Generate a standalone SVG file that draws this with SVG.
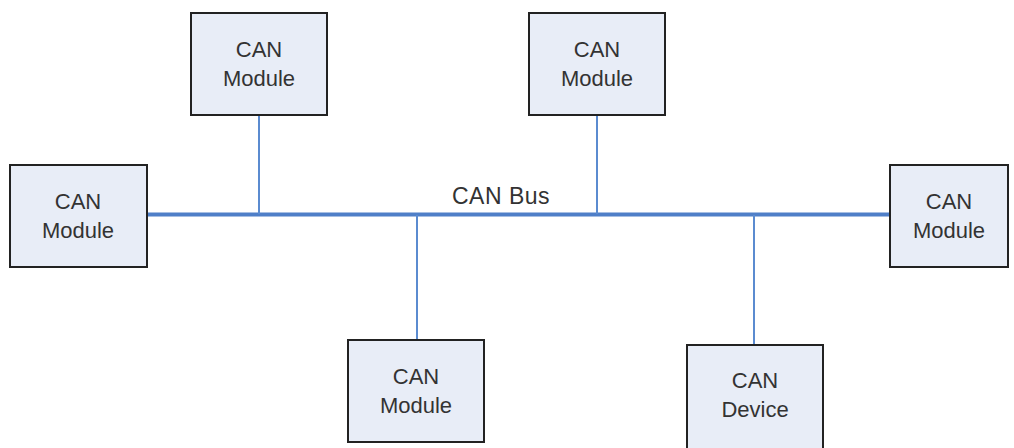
<svg xmlns="http://www.w3.org/2000/svg" width="1014" height="448" viewBox="0 0 1014 448">
  <style>
    .box { fill: #e8edf7; stroke: #222222; stroke-width: 2; }
    .lbl { font-family: "Liberation Sans", Arial, sans-serif; font-size: 22px; fill: #333333; text-anchor: middle; }
    .bus-lbl { font-size: 23px; letter-spacing: 0.5px; }
    .bus { stroke: #4f7fc8; stroke-width: 4; fill: none; }
    .stub { stroke: #5b8bd0; stroke-width: 2; fill: none; }
  </style>
  <rect width="1014" height="448" fill="#ffffff"/>

  <!-- bus and drop lines -->
  <g id="connectors">
    <line class="bus" x1="147" y1="214.5" x2="891" y2="214.5"/>
    <line class="stub" x1="259" y1="115" x2="259" y2="214"/>
    <line class="stub" x1="597" y1="115" x2="597" y2="214"/>
    <line class="stub" x1="417" y1="215" x2="417" y2="340"/>
    <line class="stub" x1="754" y1="215" x2="754" y2="345"/>
    <text class="lbl bus-lbl" x="501" y="204">CAN Bus</text>
  </g>

  <g id="module-left">
    <rect class="box" x="10" y="165" width="137" height="102"/>
    <text class="lbl" x="78" y="209">CAN</text>
    <text class="lbl" x="78" y="238">Module</text>
  </g>

  <g id="module-top-left">
    <rect class="box" x="191" y="13" width="136" height="102"/>
    <text class="lbl" x="259" y="57">CAN</text>
    <text class="lbl" x="259" y="86">Module</text>
  </g>

  <g id="module-top-right">
    <rect class="box" x="529" y="13" width="136" height="102"/>
    <text class="lbl" x="597" y="57">CAN</text>
    <text class="lbl" x="597" y="86">Module</text>
  </g>

  <g id="module-right">
    <rect class="box" x="890" y="165" width="118" height="102"/>
    <text class="lbl" x="949" y="209">CAN</text>
    <text class="lbl" x="949" y="238">Module</text>
  </g>

  <g id="module-bottom">
    <rect class="box" x="348" y="340" width="136" height="102"/>
    <text class="lbl" x="416" y="384">CAN</text>
    <text class="lbl" x="416" y="413">Module</text>
  </g>

  <g id="device-bottom">
    <rect class="box" x="687" y="345" width="136" height="108"/>
    <text class="lbl" x="755" y="388">CAN</text>
    <text class="lbl" x="755" y="417">Device</text>
  </g>
</svg>
